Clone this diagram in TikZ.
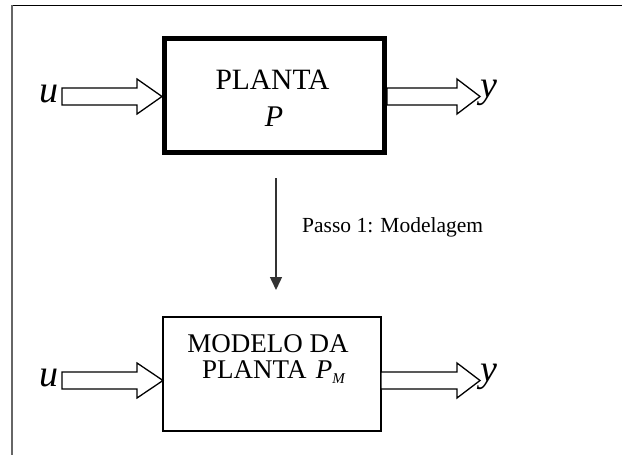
\documentclass[tikz,border=0pt]{standalone}
\usepackage{fontspec}
\setmainfont{Liberation Serif}
\usetikzlibrary{arrows.meta}
\begin{document}
\begin{tikzpicture}[x=1pt,y=-1pt,
  hollow/.style={draw=black,line width=1.3pt,fill=white,line join=miter},
  boxtxt/.style={font=\fontsize{27}{31}\selectfont,align=center},
  var/.style={font=\fontsize{38}{40}\selectfont\itshape,inner sep=0pt}]
\useasboundingbox (0,0) rectangle (622,455);
\fill[white] (0,0) rectangle (622,455);
% frame
\draw[black,line width=1.5pt] (11,5.5) -- (622,5.5);
\draw[gray!80!black,line width=2pt] (12,5) -- (12,455);
% top box
\node[draw=black,line width=5pt,minimum width=220pt,minimum height=114pt,inner sep=0pt] (plant) at (274.5,95.5) {};
\node[font=\fontsize{29.5}{32}\selectfont] (t1) at (272.5,80) {PLANTA};
\node[font=\fontsize{30}{32}\selectfont\itshape] (t2) at (274,117) {P};
% top arrows
\node[var,anchor=east] (u1) at (59,94) {u};
\node[var,anchor=west] (y1) at (480,93) {y};
\draw[hollow] (62,88) -- (137,88) -- (137,79) -- (162,96.5) -- (137,114) -- (137,105) -- (62,105) -- cycle;
\draw[hollow] (387,88) -- (457,88) -- (457,79) -- (480,96.5) -- (457,114) -- (457,105) -- (387,105) -- cycle;
% vertical arrow
\coordinate (va) at (276,178);
\coordinate (vb) at (276,290);
\draw[gray!40!black,line width=1.5pt,-{Triangle[length=13pt,width=12pt]}] (va) -- (vb);
\node[font=\fontsize{21.5}{24}\selectfont,anchor=west,inner sep=0pt] (lab) at (302,227) {Passo 1: Modelagem};
% bottom box
\node[draw=black,line width=1.5pt,minimum width=218pt,minimum height=114pt,inner sep=0pt] (model) at (272,374) {};
\node[boxtxt] (m1) at (268,344) {MODELO DA};
\node[font=\fontsize{27}{31}\selectfont,anchor=west,inner sep=0pt] (m2) at (202,372) {PLANTA\hspace{0.35em}\textit{P}\raisebox{-0.45ex}{\fontsize{15}{15}\selectfont\textit{M}}};
% bottom arrows
\node[var,anchor=east] (u2) at (59,378) {u};
\node[var,anchor=west] (y2) at (480,377) {y};
\draw[hollow] (62,372) -- (137,372) -- (137,363) -- (163,380.5) -- (137,398) -- (137,389) -- (62,389) -- cycle;
\draw[hollow] (381,372) -- (457,372) -- (457,363) -- (480,380.5) -- (457,398) -- (457,389) -- (381,389) -- cycle;
\end{tikzpicture}
\end{document}
